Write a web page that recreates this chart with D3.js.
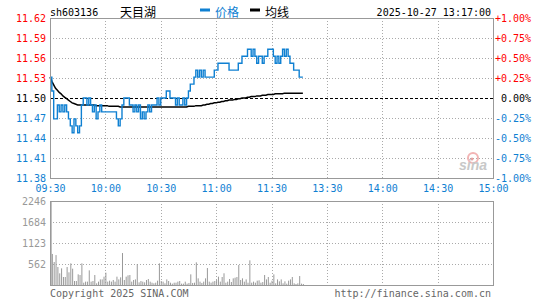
<!DOCTYPE html>
<html>
<head>
<meta charset="utf-8">
<script src="https://cdn.jsdelivr.net/npm/d3@7"></script>
<style>
  body { margin: 0; background: #fff; }
  svg text { font-family: "DejaVu Sans Mono", monospace; font-size: 10px; }
</style>
</head>
<body>
<svg id="chart" width="545" height="300"></svg>
<script>
// header info
var symbol = "sh603136";
var stockName = "天目湖";
var stamp = "2025-10-27 13:17:00";
var legendNames = ["价格", "均线"];
var preClose = 11.50;

var timeLabels = ["09:30", "10:00", "10:30", "11:00", "11:30", "13:30", "14:00", "14:30", "15:00"];
var priceLabels = ["11.62", "11.59", "11.56", "11.53", "11.50", "11.47", "11.44", "11.41", "11.38"];
var pctLabels = ["+1.00%", "+0.75%", "+0.50%", "+0.25%", "0.00%", "-0.25%", "-0.50%", "-0.75%", "-1.00%"];
var volLabels = [2246, 1684, 1123, 562];

// one value per minute, 09:30 .. 13:17
var prices = [
  11.53, 11.51, 11.47, 11.47, 11.49, 11.48, 11.49, 11.48, 11.49, 11.48,
  11.47, 11.46, 11.45, 11.47, 11.46, 11.45, 11.46, 11.49, 11.50, 11.50,
  11.49, 11.50, 11.49, 11.48, 11.49, 11.47, 11.48, 11.49, 11.48, 11.48,
  11.48, 11.48, 11.48, 11.48, 11.48, 11.48, 11.47, 11.46, 11.47, 11.49,
  11.50, 11.50, 11.50, 11.49, 11.49, 11.48, 11.49, 11.48, 11.49, 11.47,
  11.48, 11.47, 11.48, 11.49, 11.48, 11.49, 11.49, 11.49, 11.50, 11.49,
  11.50, 11.50, 11.50, 11.51, 11.51, 11.50, 11.50, 11.50, 11.49, 11.50,
  11.49, 11.49, 11.50, 11.49, 11.50, 11.51, 11.52, 11.52, 11.53, 11.54,
  11.53, 11.54, 11.53, 11.54, 11.53, 11.53, 11.53, 11.53, 11.53, 11.54,
  11.54, 11.55, 11.55, 11.55, 11.55, 11.55, 11.55, 11.54, 11.54, 11.54,
  11.54, 11.54, 11.55, 11.55, 11.56, 11.56, 11.56, 11.57, 11.57, 11.56,
  11.57, 11.56, 11.55, 11.56, 11.56, 11.55, 11.56, 11.56, 11.57, 11.57,
  11.57, 11.56, 11.55, 11.56, 11.55, 11.56, 11.57, 11.56, 11.57, 11.56,
  11.55, 11.55, 11.54, 11.54, 11.54, 11.53, 11.53, 11.53
];

var avgPrices = [
  11.530, 11.524, 11.519, 11.514, 11.511, 11.508, 11.506, 11.503, 11.501, 11.499,
  11.497, 11.495, 11.493, 11.492, 11.491, 11.490, 11.490, 11.490, 11.490, 11.490,
  11.490, 11.490, 11.490, 11.490, 11.490, 11.489, 11.489, 11.489, 11.489, 11.489,
  11.489, 11.489, 11.488, 11.488, 11.488, 11.488, 11.488, 11.488, 11.487, 11.487,
  11.487, 11.487, 11.487, 11.487, 11.487, 11.487, 11.487, 11.487, 11.487, 11.487,
  11.487, 11.487, 11.487, 11.487, 11.487, 11.487, 11.487, 11.487, 11.487, 11.487,
  11.487, 11.487, 11.487, 11.487, 11.487, 11.487, 11.487, 11.487, 11.487, 11.487,
  11.487, 11.487, 11.487, 11.487, 11.487, 11.488, 11.488, 11.488, 11.488, 11.489,
  11.489, 11.489, 11.489, 11.490, 11.490, 11.491, 11.491, 11.492, 11.492, 11.493,
  11.493, 11.494, 11.494, 11.495, 11.495, 11.496, 11.496, 11.497, 11.497, 11.497,
  11.498, 11.498, 11.499, 11.499, 11.500, 11.500, 11.500, 11.501, 11.501, 11.502,
  11.502, 11.502, 11.503, 11.503, 11.503, 11.504, 11.504, 11.504, 11.505, 11.505,
  11.505, 11.505, 11.506, 11.506, 11.506, 11.506, 11.506, 11.507, 11.507, 11.507,
  11.507, 11.507, 11.507, 11.507, 11.507, 11.507, 11.507, 11.507
];

var volumes = [
  2246, 830, 615, 800, 481, 312, 445, 214, 214, 481,
  339, 579, 437, 107, 107, 285, 267, 579, 62, 90,
  90, 392, 90, 107, 267, 45, 90, 150, 150, 223,
  330, 90, 116, 90, 134, 90, 223, 150, 205, 855,
  134, 223, 258, 267, 90, 134, 150, 561, 71, 107,
  90, 71, 134, 160, 90, 62, 45, 62, 116, 579,
  107, 90, 45, 150, 107, 62, 36, 62, 62, 90,
  107, 36, 36, 90, 36, 54, 285, 54, 62, 606,
  178, 90, 54, 90, 178, 454, 90, 62, 90, 107,
  134, 223, 90, 214, 313, 62, 90, 160, 80, 178,
  196, 214, 535, 134, 178, 90, 150, 62, 660, 62,
  90, 62, 116, 125, 62, 80, 267, 150, 214, 62,
  116, 285, 45, 150, 98, 150, 45, 98, 36, 116,
  150, 214, 45, 27, 45, 240, 36, 27
];

var red = "#f00", blue = "#0f80d2", gray = "#999";

var svg = d3.select("#chart");
var left = 50, right = 493;

var x = d3.scaleLinear().domain([0, 240]).range([left, right]);
var y = d3.scaleLinear().domain([preClose * 0.99, preClose * 1.01]).range([178, 18]);
var vy = d3.scaleLinear().domain([0, volLabels[0]]).range([285, 201]);

var levels = d3.range(9).map(function(k) { return preClose * (1.01 - k * 0.0025); });
var minutes = d3.range(0, 241, 30);

function colorFor(i) { return i < 4 ? red : (i == 4 ? "#000" : blue); }
function px(v) { return Math.round(v) + 0.5; }

// grid
svg.append("g").selectAll("line").data(minutes.slice(1, -1)).enter().append("line")
  .attr("x1", function(d) { return px(x(d)); })
  .attr("x2", function(d) { return px(x(d)); })
  .attr("y1", 18).attr("y2", 178)
  .attr("stroke", "#aaa").attr("stroke-dasharray", "1,2");
svg.append("g").selectAll("line").data(minutes.slice(1, -1)).enter().append("line")
  .attr("x1", function(d) { return px(x(d)); })
  .attr("x2", function(d) { return px(x(d)); })
  .attr("y1", 201).attr("y2", 285)
  .attr("stroke", "#aaa").attr("stroke-dasharray", "1,2");
svg.append("g").selectAll("line").data(levels.slice(1, -1)).enter().append("line")
  .attr("x1", left).attr("x2", right)
  .attr("y1", function(d) { return px(y(d)); })
  .attr("y2", function(d) { return px(y(d)); })
  .attr("stroke", function(d, i) { return i == 3 ? "#000" : "#aaa"; })
  .attr("stroke-dasharray", function(d, i) { return i == 3 ? "3,2" : "1,2"; });
svg.append("g").selectAll("line").data(volLabels.slice(1)).enter().append("line")
  .attr("x1", left).attr("x2", right)
  .attr("y1", function(d) { return px(vy(d)); })
  .attr("y2", function(d) { return px(vy(d)); })
  .attr("stroke", "#aaa").attr("stroke-dasharray", "1,2");

// watermark
var wm = svg.append("g").attr("transform", "translate(458,170)");
wm.append("circle").attr("cx", 15).attr("cy", -12).attr("r", 5)
  .attr("fill", "none").attr("stroke", "#f2b4b4").attr("stroke-width", 2);
wm.append("circle").attr("cx", 14).attr("cy", -11).attr("r", 1.5).attr("fill", "#e8a0a0");
wm.append("text").text("sina").attr("x", 1).attr("y", 0)
  .style("font-family", "Liberation Sans, sans-serif").style("font-size", "14px")
  .style("font-weight", "bold").style("font-style", "italic").attr("fill", "#c8c8c8");

// volume bars
svg.append("g").selectAll("rect").data(volumes).enter().append("rect")
  .attr("x", function(d, i) { return x(i); })
  .attr("width", function(d, i) { return i == 0 ? 1.6 : 1; })
  .attr("y", function(d) { return vy(d); })
  .attr("height", function(d) { return vy(0) - vy(d); })
  .attr("fill", gray);

// lines
var avgLine = d3.line().x(function(d, i) { return x(i); }).y(function(d) { return y(d); });
svg.append("path").datum(avgPrices).attr("d", avgLine)
  .attr("fill", "none").attr("stroke", "#000").attr("stroke-width", 1.5);

var priceLine = d3.line().curve(d3.curveStepAfter)
  .x(function(d, i) { return x(i); }).y(function(d) { return y(d); });
svg.append("path").datum(prices).attr("d", priceLine)
  .attr("fill", "none").attr("stroke", blue).attr("stroke-width", 1.4);

// frames
svg.append("rect").attr("x", px(left)).attr("y", 18.5).attr("width", px(right) - px(left)).attr("height", 160)
  .attr("fill", "none").attr("stroke", gray);
svg.append("rect").attr("x", px(left)).attr("y", 201.5).attr("width", px(right) - px(left)).attr("height", 84)
  .attr("fill", "none").attr("stroke", gray);

// axes
function clean(g) {
  g.select(".domain").remove();
  g.selectAll("line").remove();
  g.attr("font-family", null).attr("font-size", null);
}

svg.append("g").attr("transform", "translate(46,0)")
  .call(d3.axisLeft(y).tickValues(levels).tickSize(0).tickPadding(0)
    .tickFormat(function(d, i) { return priceLabels[i]; }))
  .call(clean)
  .selectAll("text").attr("fill", function(d, i) { return colorFor(i); });

svg.append("g").attr("transform", "translate(531,0)")
  .call(d3.axisRight(y).tickValues(levels).tickSize(0).tickPadding(0)
    .tickFormat(function(d, i) { return pctLabels[i]; }))
  .call(clean)
  .selectAll("text").attr("text-anchor", "end").attr("fill", function(d, i) { return colorFor(i); });

svg.append("g").attr("transform", "translate(0,185)")
  .call(d3.axisBottom(x).tickValues(minutes).tickSize(0).tickPadding(0)
    .tickFormat(function(d, i) { return timeLabels[i]; }))
  .call(clean)
  .selectAll("text").attr("fill", blue);

svg.append("g").attr("transform", "translate(46,0)")
  .call(d3.axisLeft(vy).tickValues(volLabels).tickSize(0).tickPadding(0).tickFormat(d3.format("d")))
  .call(clean)
  .selectAll("text").attr("fill", gray);

// header
svg.append("text").attr("x", 50).attr("y", 16).attr("fill", "#000").text(symbol);
svg.append("text").attr("x", 120).attr("y", 17).attr("fill", "#000")
  .style("font-family", "Noto Sans CJK SC").style("font-size", "12px").text(stockName);
svg.append("rect").attr("x", 200).attr("y", 8.5).attr("width", 10).attr("height", 3).attr("fill", blue);
svg.append("text").attr("x", 215).attr("y", 17).attr("fill", blue)
  .style("font-family", "Noto Sans CJK SC").style("font-size", "12px").text(legendNames[0]);
svg.append("rect").attr("x", 250).attr("y", 8.5).attr("width", 10).attr("height", 3).attr("fill", "#000");
svg.append("text").attr("x", 265).attr("y", 17).attr("fill", "#000")
  .style("font-family", "Noto Sans CJK SC").style("font-size", "12px").text(legendNames[1]);
svg.append("text").attr("x", 491).attr("y", 16).attr("text-anchor", "end").attr("fill", "#000").text(stamp);

// footer
svg.append("text").attr("x", 50).attr("y", 297).attr("fill", "#666").text("Copyright 2025 SINA.COM");
svg.append("text").attr("x", 491).attr("y", 297).attr("text-anchor", "end").attr("fill", "#666")
  .text("http://finance.sina.com.cn");
</script>
</body>
</html>
